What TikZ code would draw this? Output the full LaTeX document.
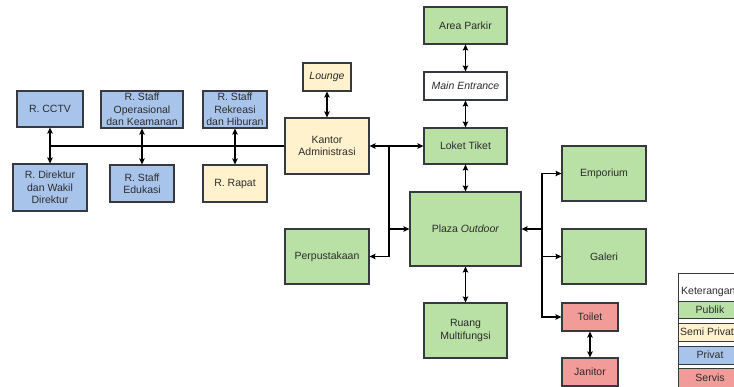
\documentclass[tikz,border=0pt]{standalone}
\usepackage{fontspec}
\setmainfont{Liberation Sans}
\usetikzlibrary{arrows.meta}
\definecolor{pubfill}{HTML}{B9E0A5}
\definecolor{semifill}{HTML}{FFF2CC}
\definecolor{privfill}{HTML}{A9C4EB}
\definecolor{servfill}{HTML}{F19C99}
\definecolor{edge}{HTML}{36393D}
\definecolor{txt}{HTML}{2B2B2B}
\begin{document}
\begin{tikzpicture}[x=1pt,y=-1pt,
  room/.style={draw=edge,line width=1.1pt,inner sep=0pt,align=center,
    text=txt,font=\fontsize{10.5}{12.3}\selectfont},
  pub/.style={room,fill=pubfill},
  semi/.style={room,fill=semifill},
  priv/.style={room,fill=privfill},
  serv/.style={room,fill=servfill},
  plain/.style={room,fill=white},
  sz/.style 2 args={minimum width=#1pt,minimum height=#2pt},
  link/.style={line width=1.1pt,black,
    arrows={-Stealth[length=6pt,width=5.5pt,inset=1pt]}},
  both/.style={link,arrows={Stealth[length=6pt,width=5.5pt,inset=1pt]-Stealth[length=6pt,width=5.5pt,inset=1pt]}},
  bare/.style={line width=1.1pt,black}]
\useasboundingbox (0,0) rectangle (734,387);
\clip (0,0) rectangle (734,387);
\fill[white] (0,0) rectangle (734,387);

% private block (west)
\node[priv,sz={66}{36}] (cctv) at (50,109) {R. CCTV};
\node[priv,sz={82}{37}] (oper) at (142,109.5) {R. Staff\\Operasional\\dan Keamanan};
\node[priv,sz={64}{37}] (rekr) at (235,109.5) {R. Staff\\Rekreasi\\dan Hiburan};
\node[priv,sz={74}{47}] (dir) at (50,187.5) {R. Direktur\\dan Wakil\\Direktur};
\node[priv,sz={64}{37}] (edu) at (142,183.5) {R. Staff\\Edukasi};
\node[semi,sz={64}{37}] (rapat) at (235,183.5) {R. Rapat};

% administration
\node[semi,sz={48}{28}] (lounge) at (327,77) {\itshape Lounge};
\node[semi,sz={84}{56}] (kantor) at (327,146) {Kantor\\Administrasi};

% public spine
\node[pub,sz={83}{37}] (parkir) at (465.5,25.5) {Area Parkir};
\node[plain,sz={83}{28}] (entr) at (465.5,86) {\itshape Main Entrance};
\node[pub,sz={83}{36}] (loket) at (465.5,146) {Loket Tiket};
\node[pub,sz={111}{74}] (plaza) at (465.5,229) {Plaza \textit{Outdoor}};
\node[pub,sz={84}{55}] (perpus) at (327,256.5) {Perpustakaan};
\node[pub,sz={83}{55}] (multi) at (465.5,330.5) {Ruang\\Multifungsi};

% east wing
\node[pub,sz={84}{55}] (empo) at (604,173.5) {Emporium};
\node[pub,sz={84}{55}] (gal) at (604,256.5) {Galeri};
\node[serv,sz={56}{28}] (toilet) at (590,317) {Toilet};
\node[serv,sz={56}{28}] (jan) at (590,372) {Janitor};

% junctions
\coordinate (busw) at (50,146);
\coordinate (jw) at (389,146);
\coordinate (jp) at (389,229);
\coordinate (je) at (542,229);

% connectors: private block
\draw[bare] (busw) -- (kantor.west);
\draw[both] (cctv) -- (dir);
\draw[both] (oper) -- (edu);
\draw[both] (rekr) -- (rapat);
\draw[both] (lounge) -- (kantor);
\draw[both] (kantor) -- (loket);

% connectors: spine
\draw[both] (parkir) -- (entr);
\draw[both] (entr) -- (loket);
\draw[both] (loket) -- (plaza);
\draw[both] (plaza) -- (multi);
\draw[link] (jw) |- (perpus.east);
\draw[link] (jp) -- (plaza.west);

% connectors: east
\draw[link] (je) -- (plaza.east);
\draw[link] (je) |- (empo.west);
\draw[link] (je) |- (gal.west);
\draw[link] (je) |- (toilet.west);
\draw[both] (toilet) -- (jan);

% legend
\draw[edge,line width=0.8pt,fill=white] (678,273) rectangle (760,400);
\node[anchor=base west,text=txt,font=\fontsize{10.5}{12.3}\selectfont,inner sep=0pt] (kt) at (681,294.5) {Keterangan};
\draw[edge,line width=0.8pt,fill=pubfill] (678,301) rectangle (742,318);
\draw[edge,line width=0.8pt,fill=semifill] (678,323) rectangle (742,341);
\draw[edge,line width=0.8pt,fill=privfill] (678,346) rectangle (742,364);
\draw[edge,line width=0.8pt,fill=servfill] (678,368) rectangle (742,390);
\node[text=txt,font=\fontsize{10.5}{12.3}\selectfont,inner sep=0pt] (lp) at (710,309.5) {Publik};
\node[anchor=base west,text=txt,font=\fontsize{10.5}{12.3}\selectfont,inner sep=0pt] (ls) at (680,336) {Semi Privat};
\node[text=txt,font=\fontsize{10.5}{12.3}\selectfont,inner sep=0pt] (lv) at (710,355) {Privat};
\node[text=txt,font=\fontsize{10.5}{12.3}\selectfont,inner sep=0pt] (lx) at (710,378) {Servis};
\end{tikzpicture}
\end{document}
